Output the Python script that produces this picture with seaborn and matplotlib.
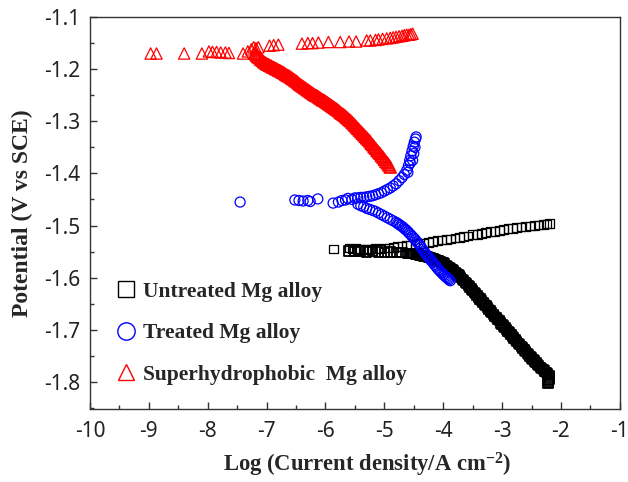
import numpy as np
import pandas as pd
import matplotlib
matplotlib.use("Agg")
import matplotlib.pyplot as plt
import seaborn as sns
from matplotlib.lines import Line2D
from matplotlib.ticker import MultipleLocator

# Untreated Mg alloy (black squares): anodic branch + cathodic branch
untreated_an_x = [-5.87, -5.60, -5.55, -5.48, -5.42, -5.36, -5.28, -5.22, -5.15, -5.08, -5.00, -4.92,
                  -4.85, -4.78, -4.70, -4.62, -4.55, -4.48, -4.40, -4.33, -4.25, -4.18, -4.10, -4.02,
                  -3.95, -3.88, -3.80, -3.72, -3.65, -3.58, -3.50, -3.42, -3.35, -3.28, -3.20, -3.12,
                  -3.05, -2.98, -2.90, -2.82, -2.75, -2.68, -2.60, -2.52, -2.45, -2.38, -2.30, -2.24, -2.19]
untreated_an_y = [-1.545, -1.543, -1.545, -1.544, -1.546, -1.545, -1.546, -1.545, -1.544, -1.545, -1.543, -1.543,
                  -1.542, -1.541, -1.540, -1.539, -1.538, -1.537, -1.535, -1.534, -1.532, -1.531, -1.529, -1.528,
                  -1.527, -1.526, -1.524, -1.523, -1.521, -1.520, -1.518, -1.517, -1.515, -1.514, -1.512, -1.511,
                  -1.509, -1.508, -1.506, -1.505, -1.504, -1.503, -1.502, -1.501, -1.500, -1.499, -1.498, -1.497, -1.496]
untreated_cat_x = [-5.60, -5.50, -5.40, -5.30, -5.20, -5.10, -5.00, -4.90, -4.80, -4.70,
                   -4.600, -4.575, -4.550, -4.525, -4.500, -4.475, -4.450, -4.425, -4.400, -4.375,
                   -4.350, -4.325, -4.300, -4.275, -4.250, -4.225, -4.200, -4.175, -4.150, -4.125,
                   -4.100, -4.075, -4.050, -4.025, -4.000, -3.975, -3.950, -3.925, -3.900, -3.875,
                   -3.850, -3.825, -3.800, -3.775, -3.750, -3.725, -3.700, -3.675, -3.650, -3.625,
                   -3.600, -3.575, -3.550, -3.525, -3.500, -3.475, -3.450, -3.425, -3.400, -3.375,
                   -3.350, -3.325, -3.300, -3.275, -3.250, -3.225, -3.200, -3.175, -3.150, -3.125,
                   -3.100, -3.075, -3.050, -3.025, -3.000, -2.975, -2.950, -2.925, -2.900, -2.875,
                   -2.850, -2.825, -2.800, -2.775, -2.750, -2.725, -2.700, -2.675, -2.650, -2.625,
                   -2.600, -2.575, -2.550, -2.525, -2.500, -2.475, -2.450, -2.425, -2.400, -2.375,
                   -2.350, -2.325, -2.300, -2.275, -2.250, -2.225, -2.200, -2.200, -2.205, -2.210,
                   -2.215, -2.220]
untreated_cat_y = [-1.549, -1.550, -1.549, -1.551, -1.550, -1.551, -1.552, -1.551, -1.552, -1.552,
                   -1.553, -1.553, -1.553, -1.554, -1.554, -1.555, -1.555, -1.556, -1.557, -1.557,
                   -1.558, -1.559, -1.560, -1.560, -1.561, -1.562, -1.563, -1.564, -1.565, -1.566,
                   -1.567, -1.568, -1.569, -1.571, -1.572, -1.574, -1.576, -1.578, -1.580, -1.582,
                   -1.585, -1.587, -1.590, -1.592, -1.595, -1.597, -1.600, -1.603, -1.606, -1.609,
                   -1.612, -1.615, -1.618, -1.622, -1.625, -1.628, -1.631, -1.635, -1.638, -1.641,
                   -1.644, -1.648, -1.651, -1.654, -1.657, -1.661, -1.664, -1.667, -1.670, -1.674,
                   -1.677, -1.680, -1.683, -1.687, -1.690, -1.693, -1.696, -1.700, -1.703, -1.706,
                   -1.709, -1.713, -1.716, -1.719, -1.722, -1.726, -1.729, -1.732, -1.735, -1.739,
                   -1.742, -1.745, -1.748, -1.751, -1.754, -1.757, -1.760, -1.763, -1.766, -1.769,
                   -1.772, -1.774, -1.777, -1.779, -1.782, -1.785, -1.788, -1.792, -1.795, -1.798,
                   -1.801, -1.803]

# Treated Mg alloy (blue circles)
treated_an_x = [-7.45, -6.52, -6.45, -6.38, -6.30, -6.26, -6.13, -5.87, -5.78, -5.72, -5.66, -5.62, -5.55,
                -5.50, -5.45, -5.40, -5.35, -5.30, -5.25, -5.20, -5.15, -5.10, -5.05, -5.00, -4.95, -4.90,
                -4.85, -4.80, -4.75, -4.70, -4.66, -4.62, -4.59, -4.57, -4.55, -4.53, -4.51, -4.49, -4.47, -4.46,
                -4.52, -4.50, -4.48, -4.60, -4.56]
treated_an_y = [-1.455, -1.451, -1.452, -1.453, -1.452, -1.454, -1.449, -1.457, -1.455, -1.452, -1.451, -1.448, -1.450,
                -1.447, -1.447, -1.446, -1.446, -1.445, -1.444, -1.443, -1.441, -1.439, -1.437, -1.434, -1.431, -1.428,
                -1.424, -1.420, -1.414, -1.408, -1.402, -1.394, -1.385, -1.375, -1.366, -1.357, -1.348, -1.340, -1.334, -1.330,
                -1.375, -1.362, -1.350, -1.398, -1.380]
treated_cat_x = [-5.45, -5.40, -5.35, -5.30, -5.25, -5.20, -5.15, -5.10, -5.05, -5.00, -4.95, -4.90, -4.85,
                 -4.80, -4.775, -4.75, -4.725, -4.70, -4.675, -4.65, -4.625, -4.60, -4.575, -4.55, -4.525,
                 -4.50, -4.475, -4.45, -4.425, -4.40, -4.375, -4.35, -4.325, -4.30, -4.275, -4.25, -4.225,
                 -4.20, -4.175, -4.15, -4.125, -4.10, -4.075, -4.05, -4.025, -4.00, -3.98, -3.96, -3.94,
                 -3.92, -3.90, -3.88]
treated_cat_y = [-1.459, -1.462, -1.464, -1.467, -1.469, -1.471, -1.473, -1.476, -1.479, -1.482, -1.485, -1.488, -1.491,
                 -1.494, -1.496, -1.498, -1.500, -1.502, -1.504, -1.507, -1.509, -1.512, -1.515, -1.518, -1.521,
                 -1.524, -1.527, -1.531, -1.534, -1.538, -1.542, -1.546, -1.550, -1.554, -1.557, -1.561, -1.564,
                 -1.568, -1.571, -1.575, -1.578, -1.582, -1.585, -1.588, -1.591, -1.594, -1.596, -1.598, -1.600,
                 -1.602, -1.604, -1.606]

# Superhydrophobic Mg alloy (red triangles)
superhydro_an_x = [-8.97, -8.87, -8.40, -8.10, -7.98, -7.92, -7.85, -7.78, -7.70, -7.64, -7.40, -7.32, -7.26, -7.22,
                   -7.18, -7.14, -6.95, -6.88, -6.80, -6.40, -6.30, -6.22, -6.12, -5.95, -5.75, -5.60, -5.48,
                   -5.30, -5.24, -5.15, -5.10, -5.03, -4.96, -4.90, -4.85, -4.80, -4.75, -4.70, -4.66, -4.62,
                   -4.58, -4.55, -4.52]
superhydro_an_y = [-1.170, -1.170, -1.170, -1.170, -1.166, -1.167, -1.167, -1.168, -1.168, -1.169, -1.170, -1.166, -1.162, -1.158,
                   -1.160, -1.158, -1.155, -1.154, -1.153, -1.151, -1.150, -1.150, -1.149, -1.148, -1.148, -1.147, -1.147,
                   -1.145, -1.145, -1.144, -1.143, -1.142, -1.141, -1.140, -1.139, -1.138, -1.137, -1.136, -1.135, -1.134,
                   -1.134, -1.133, -1.132]
superhydro_cat_x = [-7.200, -7.175, -7.150, -7.125, -7.100, -7.075, -7.050, -7.025, -7.000, -6.975,
                    -6.950, -6.925, -6.900, -6.875, -6.850, -6.825, -6.800, -6.775, -6.750, -6.725,
                    -6.700, -6.675, -6.650, -6.625, -6.600, -6.575, -6.550, -6.525, -6.500, -6.475,
                    -6.450, -6.425, -6.400, -6.375, -6.350, -6.325, -6.300, -6.275, -6.250, -6.225,
                    -6.200, -6.175, -6.150, -6.125, -6.100, -6.075, -6.050, -6.025, -6.000, -5.975,
                    -5.950, -5.925, -5.900, -5.875, -5.850, -5.825, -5.800, -5.775, -5.750, -5.725,
                    -5.700, -5.675, -5.650, -5.625, -5.600, -5.575, -5.550, -5.525, -5.500, -5.475,
                    -5.450, -5.425, -5.400, -5.375, -5.350, -5.325, -5.300, -5.275, -5.250, -5.225,
                    -5.200, -5.175, -5.150, -5.125, -5.100, -5.075, -5.050, -5.025, -5.000, -4.975,
                    -4.950, -4.925, -4.900]
superhydro_cat_y = [-1.170, -1.173, -1.176, -1.178, -1.181, -1.183, -1.186, -1.188, -1.190, -1.191,
                    -1.193, -1.194, -1.196, -1.197, -1.199, -1.200, -1.202, -1.203, -1.205, -1.206,
                    -1.208, -1.210, -1.212, -1.213, -1.215, -1.217, -1.219, -1.221, -1.223, -1.225,
                    -1.228, -1.230, -1.232, -1.234, -1.236, -1.238, -1.240, -1.242, -1.244, -1.246,
                    -1.248, -1.250, -1.251, -1.253, -1.255, -1.257, -1.259, -1.260, -1.262, -1.264,
                    -1.266, -1.268, -1.270, -1.272, -1.274, -1.276, -1.278, -1.280, -1.283, -1.285,
                    -1.287, -1.289, -1.292, -1.294, -1.297, -1.299, -1.302, -1.305, -1.308, -1.311,
                    -1.314, -1.317, -1.320, -1.323, -1.326, -1.329, -1.332, -1.335, -1.338, -1.342,
                    -1.345, -1.349, -1.352, -1.356, -1.359, -1.362, -1.366, -1.369, -1.373, -1.377,
                    -1.380, -1.384, -1.388]

labels = ["Untreated Mg alloy", "Treated Mg alloy", "Superhydrophobic  Mg alloy"]
x_ticks = [-10, -9, -8, -7, -6, -5, -4, -3, -2, -1]
y_ticks = [-1.8, -1.7, -1.6, -1.5, -1.4, -1.3, -1.2, -1.1]

sns.set_style("ticks")
plt.rcParams["mathtext.fontset"] = "custom"
plt.rcParams["mathtext.rm"] = "Liberation Serif:bold"
plt.rcParams["mathtext.it"] = "Liberation Serif:bold"

fig = plt.figure(figsize=(6.28, 4.82), dpi=100)
ax = fig.add_axes([0.1433, 0.1515, 0.8437, 0.8132])

# (x, y, marker, colour, size, edge width) - dense cathodic bands drawn with heavier edges
branches = [
    (untreated_an_x, untreated_an_y, "s", "black", 40, 0.9),
    (untreated_cat_x, untreated_cat_y, "s", "black", 44, 1.3),
    (treated_an_x, treated_an_y, "o", "blue", 52, 0.9),
    (treated_cat_x, treated_cat_y, "o", "blue", 52, 0.9),
    (superhydro_an_x, superhydro_an_y, "^", "red", 66, 0.9),
    (superhydro_cat_x, superhydro_cat_y, "^", "red", 70, 1.3),
]
for xs, ys, mk, col, sz, lw in branches:
    df = pd.DataFrame({"x": xs, "y": ys})
    sns.scatterplot(data=df, x="x", y="y", marker=mk, s=sz, facecolors="none",
                    edgecolors=col, linewidths=lw, ax=ax, legend=False)

ax.set_xlim(-10, -1)
ax.set_ylim(-1.852, -1.1)
ax.set_xticks(x_ticks)
ax.set_yticks(y_ticks)
ax.set_xticklabels([str(t) for t in x_ticks], fontfamily="Noto Sans")
ax.set_yticklabels([f"{t:.1f}" for t in y_ticks], fontfamily="Noto Sans")
ax.xaxis.set_minor_locator(MultipleLocator(0.5))
ax.yaxis.set_minor_locator(MultipleLocator(0.05))
ax.tick_params(which="both", direction="in", top=False, right=False, colors="#333333")
ax.tick_params(which="major", length=5, width=1)
ax.tick_params(which="minor", length=3, width=1)
ax.tick_params(axis="x", pad=9, labelsize=15, labelcolor="#222222")
ax.tick_params(axis="y", pad=7, labelsize=15, labelcolor="#222222")
for sp in ax.spines.values():
    sp.set_color("#333333")
    sp.set_linewidth(1.0)

ax.set_xlabel(r"Log (Current density/A cm$^{-2}$)", fontfamily="Liberation Serif",
              fontweight="bold", fontsize=16.3, va="center")
ax.xaxis.set_label_coords(0.523, -0.143)
ax.set_ylabel("Potential (V vs SCE)", fontfamily="Liberation Serif",
              fontweight="bold", fontsize=17, labelpad=8)

handles = [
    Line2D([], [], ls="none", marker="s", ms=11.5, mfc="none", mec="black", mew=1.0),
    Line2D([], [], ls="none", marker="o", ms=12.5, mfc="none", mec="blue", mew=1.0),
    Line2D([], [], ls="none", marker="^", ms=12, mfc="none", mec="red", mew=1.0),
]
ax.legend(handles, labels, loc="lower left", bbox_to_anchor=(0.011, 0.012), frameon=False,
          prop={"family": "Liberation Serif", "weight": "bold", "size": 15.5},
          handlelength=1.0, handletextpad=0.3, labelspacing=1.0)

fig.savefig("out.png", dpi=100)
